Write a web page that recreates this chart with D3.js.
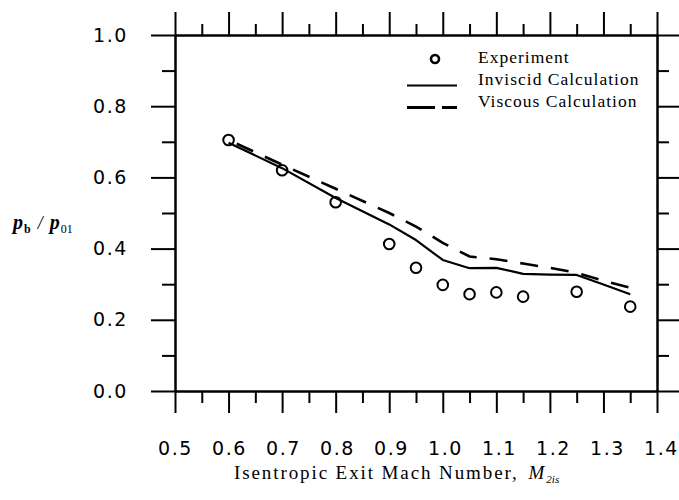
<!DOCTYPE html>
<html>
<head>
    <title>Exit pressure ratio</title>
    <script src="https://cdn.jsdelivr.net/npm/d3@7"></script>
    <style>
        body { margin: 0; background: #fff; }
    </style>
</head>
<body>
    <svg width="679" height="500" id="mainsvg"></svg>
    <script>
        // data
        const machExp = [0.6, 0.7, 0.8, 0.9, 0.95, 1.0, 1.05, 1.1, 1.15, 1.25, 1.35];
        const pExp = [0.705, 0.62, 0.53, 0.413, 0.346, 0.298, 0.272, 0.277, 0.265, 0.279, 0.237];
        const machCalc = [0.6, 0.7, 0.8, 0.9, 0.95, 1.0, 1.05, 1.1, 1.15, 1.2, 1.25, 1.3, 1.35];
        const pInviscid = [0.697, 0.626, 0.542, 0.468, 0.424, 0.368, 0.345, 0.346, 0.329, 0.327, 0.326, 0.299, 0.272];
        const pViscous = [0.705, 0.636, 0.568, 0.500, 0.462, 0.416, 0.378, 0.370, 0.358, 0.346, 0.332, 0.310, 0.290];
        const xTicks = [0.5, 0.6, 0.7, 0.8, 0.9, 1.0, 1.1, 1.2, 1.3, 1.4];
        const xMinor = [0.55, 0.65, 0.75, 0.85, 0.95, 1.05, 1.15, 1.25, 1.35];
        const yTicks = [0.0, 0.2, 0.4, 0.6, 0.8, 1.0];
        const yMinor = [0.1, 0.3, 0.5, 0.7, 0.9];
        const legendNames = ['Experiment', 'Inviscid Calculation', 'Viscous Calculation'];

        const svg = d3.select('#mainsvg');
        const margin = { top: 35, right: 22, bottom: 109, left: 175 };
        const width = +svg.attr('width');
        const height = +svg.attr('height');

        const x = d3.scaleLinear().domain([0.5, 1.4]).range([margin.left, width - margin.right]);
        const y = d3.scaleLinear().domain([0, 1]).range([height - margin.bottom, margin.top]);
        // tick labels in the scan drift a little to the right
        const xLab = d3.scaleLinear().domain([0.5, 1.4]).range([margin.left, width - margin.right + 4]);

        const styleAxis = (sel) => {
            sel.selectAll('path, line').attr('stroke', '#000').attr('stroke-width', 2);
        };
        const tickAxis = (axis, values, size, tr) => {
            svg.append('g').attr('transform', tr)
                .call(axis.tickValues(values).tickSize(size).tickSizeOuter(0).tickFormat(''))
                .call(styleAxis);
        };

        // frame: outward ticks on all four sides
        const y0 = y(0), y1 = y(1), x0 = x(0.5), x1 = x(1.4);
        tickAxis(d3.axisBottom(x), xTicks, 22, `translate(0,${y0})`);
        tickAxis(d3.axisBottom(x), xMinor, 12, `translate(0,${y0})`);
        tickAxis(d3.axisTop(x), xTicks, 23, `translate(0,${y1})`);
        tickAxis(d3.axisTop(x), xMinor, 11, `translate(0,${y1})`);
        tickAxis(d3.axisLeft(y), yTicks, 24, `translate(${x0},0)`);
        tickAxis(d3.axisLeft(y), yMinor, 13, `translate(${x0},0)`);
        tickAxis(d3.axisRight(y), yTicks, 24, `translate(${x1},0)`);
        tickAxis(d3.axisRight(y), yMinor, 12, `translate(${x1},0)`);

        // tick labels
        const xLabels = svg.append('g').attr('transform', `translate(0,${y0})`)
            .call(d3.axisBottom(xLab).tickValues(xTicks).tickSize(0).tickPadding(51).tickFormat(d3.format('.1f')));
        xLabels.select('.domain').remove();
        const yLabels = svg.append('g').attr('transform', `translate(${x0},0)`)
            .call(d3.axisLeft(y).tickValues(yTicks).tickSize(0).tickPadding(47).tickFormat(d3.format('.1f')));
        yLabels.select('.domain').remove();
        svg.selectAll('.tick text')
            .attr('font-family', 'DejaVu Sans')
            .attr('font-size', 19)
            .attr('letter-spacing', 1.6)
            .attr('fill', '#000');

        // curves
        const calc = machCalc.map((m, i) => ({ m: m, inv: pInviscid[i], vis: pViscous[i] }));
        const lineInv = d3.line().x(d => x(d.m)).y(d => y(d.inv));
        const lineVis = d3.line().x(d => x(d.m)).y(d => y(d.vis));

        svg.append('path').datum(calc)
            .attr('d', lineInv)
            .attr('fill', 'none')
            .attr('stroke', '#000')
            .attr('stroke-width', 2.2)
            .attr('stroke-linejoin', 'round');

        svg.append('path').datum(calc)
            .attr('d', lineVis)
            .attr('fill', 'none')
            .attr('stroke', '#000')
            .attr('stroke-width', 2.6)
            .attr('stroke-dasharray', '18,13')
            .attr('stroke-dashoffset', 22);

        svg.selectAll('.exp').data(machExp.map((m, i) => ({ m: m, p: pExp[i] })))
            .enter().append('circle')
            .attr('class', 'exp')
            .attr('cx', d => x(d.m))
            .attr('cy', d => y(d.p))
            .attr('r', 5.3)
            .attr('fill', 'none')
            .attr('stroke', '#000')
            .attr('stroke-width', 2);

        // legend
        const legend = svg.append('g').attr('transform', 'translate(407,62.5)');
        const rows = legend.selectAll('g').data(legendNames).enter().append('g')
            .attr('transform', (d, i) => `translate(0,${i * 22})`);
        rows.append('text')
            .attr('x', 71)
            .attr('font-family', 'Liberation Serif')
            .attr('font-size', 17.5)
            .attr('letter-spacing', 1)
            .text(d => d);
        rows.filter((d, i) => i === 0).append('circle')
            .attr('cx', 28).attr('cy', -3.5).attr('r', 4)
            .attr('fill', 'none').attr('stroke', '#000').attr('stroke-width', 2.6);
        rows.filter((d, i) => i === 1).append('line')
            .attr('x1', 0).attr('x2', 50).attr('y1', 1).attr('y2', 1)
            .attr('stroke', '#000').attr('stroke-width', 2.2);
        rows.filter((d, i) => i === 2).append('line')
            .attr('x1', 0).attr('x2', 50).attr('y1', 1).attr('y2', 1)
            .attr('stroke', '#000').attr('stroke-width', 2.8)
            .attr('stroke-dasharray', '28,7');

        // axis titles
        const xTitle = svg.append('text')
            .attr('x', 234).attr('y', 479)
            .attr('font-family', 'Liberation Serif')
            .attr('font-size', 19)
            .attr('letter-spacing', 1.9)
            .attr('fill', '#000');
        xTitle.append('tspan').text('Isentropic Exit Mach Number,');
        xTitle.append('tspan').attr('dx', 10).attr('font-style', 'italic').text('M');
        xTitle.append('tspan').attr('dy', 4).attr('font-style', 'italic').attr('font-size', 11)
            .attr('letter-spacing', 0).text('2is');

        const yTitle = svg.append('text')
            .attr('x', 13).attr('y', 229)
            .attr('font-family', 'Liberation Serif')
            .attr('font-weight', 'bold')
            .attr('fill', '#000');
        yTitle.append('tspan').attr('font-size', 20).attr('font-style', 'italic').text('p');
        yTitle.append('tspan').attr('font-size', 12).attr('dy', 4).attr('dx', 1).text('b');
        yTitle.append('tspan').attr('font-size', 18).attr('dy', -4).attr('dx', 7)
            .attr('font-weight', 'normal').attr('font-style', 'italic').text('/');
        yTitle.append('tspan').attr('font-size', 20).attr('dx', 7).attr('font-style', 'italic').text('p');
        yTitle.append('tspan').attr('font-size', 12).attr('dy', 4).attr('dx', 1)
            .attr('font-weight', 'normal').text('01');
    </script>
</body>
</html>
